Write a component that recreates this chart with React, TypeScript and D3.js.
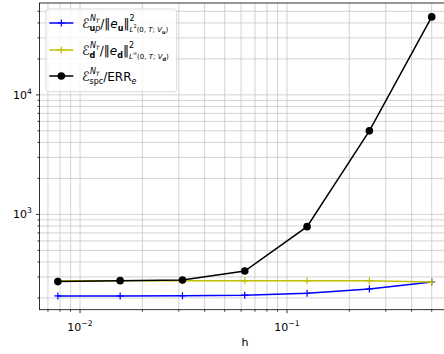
import * as d3 from 'd3';
import React from 'react';

// mesh sizes and the three error ratios
const hValues = [1 / 128, 1 / 64, 1 / 32, 1 / 16, 1 / 8, 1 / 4, 1 / 2];
const upRatio = [208, 208, 209, 211, 219, 238, 272];
const dRatio = [278, 278, 278, 278, 278, 278, 272];
const spcRatio = [274, 279, 283, 336, 790, 5000, 44900];

const xMajorTicks = [0.01, 0.1];
const xTickExp = ['−2', '−1'];
const yMajorTicks = [1000, 10000];
const yTickExp = ['3', '4'];

type Seg = { t: string; s?: number; b?: number; dx?: number; i?: boolean; w?: boolean };

// tiny mathtext stand-in: segments flow left to right, b = baseline offset
const MathText: React.FC<{ x: number; y: number; segs: Seg[] }> = ({ x, y, segs }) => {
    let prev = 0;
    return (
        <text x={x} y={y} fontFamily="DejaVu Sans" fill="#000">
            {segs.map((g, k) => {
                const b = g.b ?? 0;
                const dy = b - prev;
                prev = b;
                return (
                    <tspan key={k} dy={dy} dx={g.dx ?? 0} fontSize={g.s ?? 12}
                        fontStyle={g.i ? 'italic' : 'normal'} fontWeight={g.w ? 'bold' : 'normal'}>
                        {g.t}
                    </tspan>
                );
            })}
        </text>
    );
};

const supNT: Seg[] = [
    { t: 'N', s: 8, b: -6.5, i: true },
    { t: 'T', s: 6, b: -5, i: true },
];

const label1: Seg[] = [
    { t: 'ℰ', s: 13 }, ...supNT,
    { t: 'u', s: 8, b: 3, w: true, dx: -10 }, { t: 'p', s: 8, b: 3, i: true },
    { t: '/‖', s: 12, b: 0 }, { t: 'e', s: 12, i: true, b: 0 }, { t: 'u', s: 8, b: 3, w: true },
    { t: '‖', s: 12, b: 0 }, { t: '2', s: 8, b: -6.5 },
    { t: 'L', s: 7, b: 4, i: true, dx: -5 }, { t: '2', s: 5, b: 0.5 },
    { t: '(0, ', s: 7, b: 4 }, { t: 'T', s: 7, b: 4, i: true }, { t: '; ', s: 7, b: 4 },
    { t: 'V', s: 7, b: 4, i: true }, { t: 'u', s: 5, b: 6, w: true }, { t: ')', s: 7, b: 4 },
];

const label2: Seg[] = [
    { t: 'ℰ', s: 13 }, ...supNT,
    { t: 'd', s: 8, b: 3, w: true, dx: -10 },
    { t: '/‖', s: 12, b: 0, dx: 4.5 }, { t: 'e', s: 12, i: true, b: 0 }, { t: 'd', s: 8, b: 3, w: true },
    { t: '‖', s: 12, b: 0 }, { t: '2', s: 8, b: -6.5 },
    { t: 'L', s: 7, b: 4, i: true, dx: -5 }, { t: '∞', s: 5, b: 0.5 },
    { t: '(0, ', s: 7, b: 4 }, { t: 'T', s: 7, b: 4, i: true }, { t: '; ', s: 7, b: 4 },
    { t: 'V', s: 7, b: 4, i: true }, { t: 'd', s: 5, b: 6, w: true }, { t: ')', s: 7, b: 4 },
];

const label3: Seg[] = [
    { t: 'ℰ', s: 13 }, ...supNT,
    { t: 'spc', s: 8, b: 3, dx: -10 },
    { t: '/ERR', s: 12, b: 0 }, { t: 'e', s: 8, b: 3, i: true },
];

const W = 444, H = 354;
const left = 39.5, right = 450.3, top = 3, bottom = 309.7;

function minorTicks(lo: number, hi: number) {
    const out: number[] = [];
    for (let e = Math.floor(Math.log10(lo)); e <= Math.ceil(Math.log10(hi)); e++) {
        for (let m = 2; m <= 9; m++) {
            const v = m * Math.pow(10, e);
            if (v >= lo && v <= hi) out.push(v);
        }
    }
    return out;
}

const App: React.FC = () => {
    const x = d3.scaleLog().domain([0.00637, 0.615]).range([left, right]);
    const y = d3.scaleLog().domain([159.5, 58700]).range([bottom, top]);

    const xMinor = minorTicks(0.00637, 0.615);
    const yMinor = minorTicks(159.5, 58700);

    const line = d3.line<number>().x((_, i) => x(hValues[i])).y(d => y(d));
    const grid = '#c8c8c8';

    const plus = (cx: number, cy: number, c: string, k: string | number) => (
        <path key={k} d={`M${cx - 3.5},${cy}H${cx + 3.5}M${cx},${cy - 3.5}V${cy + 3.5}`} stroke={c} strokeWidth={1.2} />
    );

    const series = [
        { vals: upRatio, color: '#0000ff', marker: 'plus' },
        { vals: dRatio, color: '#bfbf00', marker: 'plus' },
        { vals: spcRatio, color: '#000000', marker: 'circle' },
    ];

    const legendRows = [
        { y: 23, color: '#0000ff', marker: 'plus', label: label1 },
        { y: 50, color: '#bfbf00', marker: 'plus', label: label2 },
        { y: 76, color: '#000000', marker: 'circle', label: label3 },
    ];

    return (
        <svg width={W} height={H} style={{ position: 'absolute', left: 0, top: 0 }} fontFamily="DejaVu Sans">
            <rect width={W} height={H} fill="#fff" />
            <defs>
                <clipPath id="plotArea">
                    <rect x={left} y={top} width={right - left} height={bottom - top} />
                </clipPath>
            </defs>
            {/* grid, minor and major */}
            <g stroke={grid} strokeWidth={0.8}>
                {[...xMinor, ...xMajorTicks].map((v, i) => (
                    <line key={'gx' + i} x1={x(v)} x2={x(v)} y1={top} y2={bottom} />
                ))}
                {[...yMinor, ...yMajorTicks].map((v, i) => (
                    <line key={'gy' + i} x1={left} x2={right} y1={y(v)} y2={y(v)} />
                ))}
            </g>
            <g clipPath="url(#plotArea)">
                {series.map((s, si) => (
                    <g key={si}>
                        <path d={line(s.vals) ?? ''} fill="none" stroke={s.color} strokeWidth={1.5} />
                        {s.vals.map((v, i) =>
                            s.marker === 'plus'
                                ? plus(x(hValues[i]), y(v), s.color, i)
                                : <circle key={i} cx={x(hValues[i])} cy={y(v)} r={3.8} fill={s.color} />
                        )}
                    </g>
                ))}
            </g>
            {/* spines */}
            <rect x={left} y={top} width={right - left} height={bottom - top} fill="none" stroke="#000" strokeWidth={0.8} />
            {/* ticks */}
            <g stroke="#000" strokeWidth={0.8}>
                {xMajorTicks.map((v, i) => <line key={'xt' + i} x1={x(v)} x2={x(v)} y1={bottom} y2={bottom + 3.5} />)}
                {xMinor.map((v, i) => <line key={'xm' + i} x1={x(v)} x2={x(v)} y1={bottom} y2={bottom + 2} />)}
                {yMajorTicks.map((v, i) => <line key={'yt' + i} x1={left} x2={left - 3.5} y1={y(v)} y2={y(v)} />)}
                {yMinor.map((v, i) => <line key={'ym' + i} x1={left} x2={left - 2} y1={y(v)} y2={y(v)} />)}
            </g>
            {xMajorTicks.map((v, i) => (
                <text key={'xl' + i} x={x(v)} y={330.7} textAnchor="middle" fontSize={11} fill="#000">
                    10<tspan fontSize={7.7} dy={-5}>{xTickExp[i]}</tspan>
                </text>
            ))}
            {yMajorTicks.map((v, i) => (
                <text key={'yl' + i} x={32} y={y(v) + 4} textAnchor="end" fontSize={11} fill="#000">
                    10<tspan fontSize={7.7} dy={-5}>{yTickExp[i]}</tspan>
                </text>
            ))}
            <text x={(left + right) / 2} y={346} textAnchor="middle" fontSize={11} fill="#000">h</text>
            {/* legend */}
            <rect x={46} y={9} width={130.7} height={82.7} rx={3} fill="#fff" fillOpacity={0.8} stroke="#d0d0d0" strokeWidth={0.8} />
            {legendRows.map((r, i) => (
                <g key={'lg' + i}>
                    <line x1={49.3} x2={73.3} y1={r.y} y2={r.y} stroke={r.color} strokeWidth={1.5} />
                    {r.marker === 'plus'
                        ? plus(61.3, r.y, r.color, 'm')
                        : <circle cx={61.3} cy={r.y} r={3.8} fill={r.color} />}
                    <MathText x={82} y={r.y + 4.5} segs={r.label} />
                </g>
            ))}
        </svg>
    );
};

export default App;
